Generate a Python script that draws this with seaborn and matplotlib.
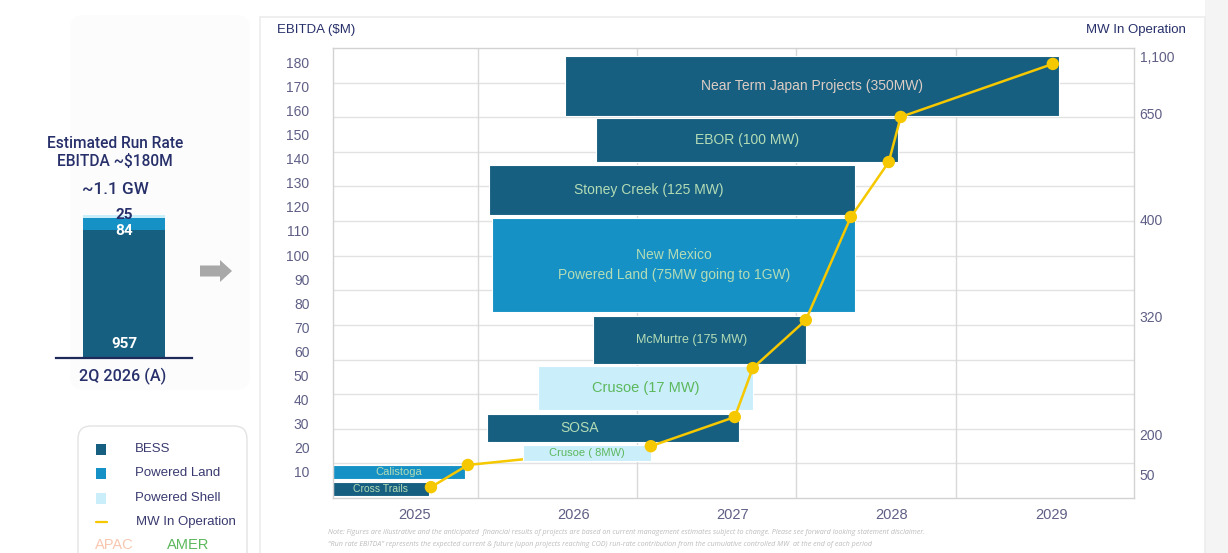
import numpy as np
import matplotlib.pyplot as plt
import seaborn as sns
from matplotlib.patches import FancyBboxPatch, Rectangle, FancyArrow

# -----------------------------
# Data
# -----------------------------
projects = ["Cross Trails", "Calistoga", "Crusoe ( 8MW)", "SOSA", "Crusoe (17 MW)",
            "McMurtre (175 MW)", "New Mexico\nPowered Land (75MW going to 1GW)",
            "Stoney Creek (125 MW)", "EBOR (100 MW)", "Near Term Japan Projects (350MW)"]
proj_type = ["BESS", "Powered Land", "Powered Shell", "BESS", "Powered Shell",
             "BESS", "Powered Land", "BESS", "BESS", "BESS"]
proj_region = ["AMER", "AMER", "AMER", "AMER", "AMER",
               "AMER", "AMER", "AMER", "AMER", "APAC"]
start = [2024.59, 2024.59, 2025.78, 2025.56, 2025.88, 2026.22, 2025.59, 2025.57, 2026.24, 2026.05]
end = [2025.19, 2025.42, 2026.59, 2027.14, 2027.23, 2027.56, 2027.87, 2027.87, 2028.14, 2029.15]
ebitda_low = [0.0, 7.1, 14.5, 22.4, 35.7, 54.8, 76.3, 116.6, 138.6, 157.7]
ebitda_high = [5.8, 12.9, 21.2, 34.0, 53.9, 74.7, 115.4, 137.3, 156.8, 182.6]

# MW in operation line (x in fractional years, y in EBITDA scale)
mw_x = [2025.205, 2025.437, 2026.586, 2027.113, 2027.226, 2027.559, 2027.842, 2028.080, 2028.155, 2029.110]
mw_y = [3.7, 12.9, 20.7, 32.8, 53.1, 73.0, 115.8, 138.6, 157.3, 179.3]

# right axis labels
mw_labels = ["50", "200", "320", "400", "650", "1,100"]
mw_label_pos = [9.1, 25.7, 74.3, 114.9, 158.9, 182.2]

years = [2025, 2026, 2027, 2028, 2029]
ebitda_ticks = list(range(10, 190, 10))

# left summary bar
run_rate_parts = ["BESS", "Powered Land", "Powered Shell"]
run_rate_mw = [957, 84, 25]

# -----------------------------
# Style
# -----------------------------
sns.set_theme(style="white")
plt.rcParams["font.family"] = ["Liberation Sans", "DejaVu Sans"]

type_colors = {"BESS": "#175f80", "Powered Land": "#1591c5", "Powered Shell": "#cbeefb"}
YELLOW = "#f5c800"
NAVY = "#27306a"
TICK = "#5f5f86"
GRID = "#e2e2e2"

W, H = 1228, 553
fig = plt.figure(figsize=(W / 100, H / 100), dpi=100)

# background layer in pixel coordinates
bg = fig.add_axes([0, 0, 1, 1], zorder=0)
bg.set_xlim(0, W)
bg.set_ylim(H, 0)
bg.axis("off")
bg.add_patch(Rectangle((1205, 0), 23, H, color="#f4f4f4", lw=0))
bg.add_patch(FancyBboxPatch((70, 15), 180, 375, boxstyle="round,pad=0,rounding_size=14",
                            fc="#fcfcfc", ec="none"))
bg.add_patch(Rectangle((260, 17), 945, 540, fc="white", ec="#ececec", lw=1.2))

# -----------------------------
# Main chart
# -----------------------------
ax = fig.add_axes([333 / W, 1 - 498 / H, (1134 - 333) / W, (498 - 48) / H], zorder=2)
ax.set_xlim(2024.59, 2029.62)
ax.set_ylim(-0.8, 185.9)
ax.set_facecolor("white")

for yy in np.linspace(-0.8, 185.9, 14)[1:-1]:
    ax.axhline(yy, color=GRID, lw=1, zorder=0)
for xx in [y + 0.5 for y in years[:-1]]:
    ax.axvline(xx, color="#d9d9d9", lw=1, zorder=0)

label_size = {"Cross Trails": 7.5, "Calistoga": 8, "Crusoe ( 8MW)": 8, "SOSA": 10,
              "Crusoe (17 MW)": 10.5, "McMurtre (175 MW)": 9}
label_dx = {"SOSA": -0.21, "Stoney Creek (125 MW)": -0.145, "McMurtre (175 MW)": -0.05}
over_line = ["Crusoe ( 8MW)"]

for i, name in enumerate(projects):
    z = 4 if name in over_line else 2
    ax.barh(y=ebitda_low[i], width=end[i] - start[i], left=start[i],
            height=ebitda_high[i] - ebitda_low[i], align="edge",
            color=type_colors[proj_type[i]], edgecolor="white", lw=0.8, zorder=z)
    if proj_region[i] == "APAC":
        tc = "#ddcdc5"
    elif proj_type[i] == "Powered Shell":
        tc = "#5cb85c"
    else:
        tc = "#b3dcb6"
    cx = (start[i] + end[i]) / 2 + label_dx.get(name, 0)
    cy = (ebitda_low[i] + ebitda_high[i]) / 2
    ax.text(cx, cy, name, ha="center", va="center", color=tc,
            fontsize=label_size.get(name, 10), zorder=z + 1, linespacing=1.5)

sns.lineplot(x=mw_x, y=mw_y, ax=ax, color=YELLOW, lw=1.8, sort=False, zorder=3)
sns.scatterplot(x=mw_x, y=mw_y, ax=ax, color=YELLOW, s=80, edgecolor="none", zorder=6)

ax.set_yticks(ebitda_ticks)
ax.set_yticklabels([str(v) for v in ebitda_ticks])
ax.set_xticks([y + 0.1 for y in years])
ax.set_xticklabels([str(y) for y in years])
ax.tick_params(axis="y", length=0, pad=17, labelsize=10, labelcolor=TICK)
ax.tick_params(axis="x", length=0, pad=7, labelsize=10.5, labelcolor=TICK)
ax.set_xlabel("")
ax.set_ylabel("")
for s in ax.spines.values():
    s.set_color("#d2d2d2")
    s.set_linewidth(1)

ax2 = ax.twinx()
ax2.set_ylim(ax.get_ylim())
ax2.set_yticks(mw_label_pos)
ax2.set_yticklabels(mw_labels)
ax2.tick_params(axis="y", length=0, pad=4, labelsize=10, labelcolor=TICK)
for s in ax2.spines.values():
    s.set_visible(False)
ax2.grid(False)

bg.text(277, 30, "EBITDA ($M)", ha="left", va="center", fontsize=9.5, color=NAVY)
bg.text(1186, 30, "MW In Operation", ha="right", va="center", fontsize=9.5, color=NAVY)

# footnote
note_kw = dict(ha="left", va="center", fontsize=5.1, color="#bcbcbc", style="italic",
               family=["Open Sans", "DejaVu Sans"])
bg.text(328, 533, "Note: Figures are illustrative and the anticipated  financial results of projects are "
        "based on current management estimates subject to change. Please see forward looking statement disclaimer.",
        **note_kw)
bg.text(328, 545, "\u201cRun rate EBITDA\u201d represents the expected current & future (upon projects reaching COD) "
        "run-rate contribution from the cumulative controlled MW  at the end of each period", **note_kw)

# -----------------------------
# Left summary bar
# -----------------------------
axl = fig.add_axes([56 / W, 1 - 358 / H, 136 / W, (358 - 200) / H], zorder=2)
bottoms = np.concatenate([[0], np.cumsum(run_rate_mw)[:-1]])
axl.bar([0.5] * len(run_rate_mw), run_rate_mw, bottom=bottoms, width=0.6,
        color=[type_colors[p] for p in run_rate_parts], lw=0)
axl.set_xlim(0, 1)
axl.set_ylim(0, 1179)
axl.set_xticks([])
axl.set_yticks([])
axl.set_facecolor("none")
for k, s in axl.spines.items():
    s.set_visible(k == "bottom")
axl.spines["bottom"].set_color("#1e2a5a")
axl.spines["bottom"].set_linewidth(1.6)
num_y = [105, 948, 1067]
num_c = ["white", "white", NAVY]
for v, yv, c in zip(run_rate_mw, num_y, num_c):
    axl.text(0.5, yv, str(v), ha="center", va="center", fontsize=11, color=c,
             fontweight="bold", family=["Roboto", "DejaVu Sans"])

head_kw = dict(ha="center", va="center", color=NAVY, family=["Roboto", "DejaVu Sans"],
               fontweight="medium")
bg.text(115, 143, "Estimated Run Rate", fontsize=11.2, **head_kw)
bg.text(115, 161, "EBITDA ~$180M", fontsize=11.2, **head_kw)
bg.text(115, 190, "~1.1 GW", fontsize=12.3, **head_kw)
bg.text(123, 376, "2Q 2026 (A)", fontsize=11.6, **head_kw)

bg.add_patch(FancyArrow(200, 271, 32, 0, width=11, head_width=22, head_length=12,
                        length_includes_head=True, color="#a8a8a8", lw=0))

# -----------------------------
# Legend box
# -----------------------------
bg.add_patch(FancyBboxPatch((78, 426), 169, 140, boxstyle="round,pad=0,rounding_size=13",
                            fc="white", ec="#e3e3e3", lw=1))
leg_kw = dict(ha="left", va="center", fontsize=9.5, color="#3a3a70")
for j, p in enumerate(run_rate_parts):
    yc = 449 + j * 24.5
    bg.add_patch(Rectangle((96, yc - 5.5), 10, 11, color=type_colors[p], lw=0))
    bg.text(135, yc, p, **leg_kw)
bg.plot([96, 107], [522, 522], color=YELLOW, lw=1.6)
bg.text(136, 522, "MW In Operation", **leg_kw)
bg.text(95, 545, "APAC", ha="left", va="center", fontsize=10.5, color="#f8c7b0")
bg.text(167, 545, "AMER", ha="left", va="center", fontsize=10.5, color="#5cb85c")

fig.savefig("out.png", dpi=100)
